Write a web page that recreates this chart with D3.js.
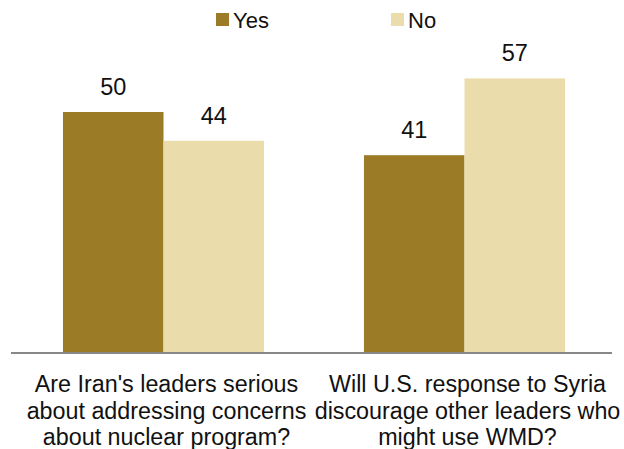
<!DOCTYPE html>
<html>
<head>
<meta charset="utf-8">
<script src="https://cdn.jsdelivr.net/npm/d3@7"></script>
<style>
  html, body { margin: 0; padding: 0; background: #fff; }
  svg { display: block; }
</style>
</head>
<body>
<svg id="chart" width="624" height="449"></svg>
<script>
// Survey questions and the share answering each way (%)
const questions = [
  ["Are Iran's leaders serious", "about addressing concerns", "about nuclear program?"],
  ["Will U.S. response to Syria", "discourage other leaders who", "might use WMD?"]
];
const seriesNames = ["Yes", "No"];
const yesValues = [50, 41];
const noValues = [44, 57];
const colors = ["#9C7B26", "#EBDCAB"];

const svg = d3.select("#chart");
const baseY = 352;

const x0 = d3.scaleBand()
  .domain(d3.range(questions.length))
  .range([13, 615])
  .paddingInner(0.332)
  .paddingOuter(0.166);

const x1 = d3.scaleBand()
  .domain(seriesNames)
  .range([0, x0.bandwidth()]);

const y = d3.scaleLinear()
  .domain([0, 50])
  .range([baseY, 112]);

const color = d3.scaleOrdinal().domain(seriesNames).range(colors);

const rows = questions.map((q, i) => ({
  i,
  values: [
    { key: "Yes", value: yesValues[i] },
    { key: "No", value: noValues[i] }
  ]
}));

const groups = svg.selectAll("g.group")
  .data(rows)
  .join("g")
  .attr("class", "group")
  .attr("transform", d => `translate(${x0(d.i)},0)`);

groups.selectAll("rect")
  .data(d => d.values)
  .join("rect")
  .attr("x", d => x1(d.key))
  .attr("y", d => y(d.value))
  .attr("width", x1.bandwidth())
  .attr("height", d => baseY - y(d.value))
  .attr("fill", d => color(d.key));

groups.selectAll("text.value")
  .data(d => d.values)
  .join("text")
  .attr("class", "value")
  .attr("x", d => x1(d.key) + x1.bandwidth() / 2)
  .attr("y", d => y(d.value) - 17)
  .attr("text-anchor", "middle")
  .attr("font-family", "Liberation Sans, Arial, sans-serif")
  .attr("font-size", 23.5)
  .attr("fill", "#111")
  .text(d => d.value);

// Baseline
svg.append("line")
  .attr("x1", 11).attr("x2", 612)
  .attr("y1", baseY + 1).attr("y2", baseY + 1)
  .attr("stroke", "#888")
  .attr("stroke-width", 2);

// Category labels
const labels = svg.selectAll("text.cat")
  .data(questions)
  .join("text")
  .attr("class", "cat")
  .attr("text-anchor", "middle")
  .attr("font-family", "Liberation Sans, Arial, sans-serif")
  .attr("font-size", 23.3)
  .attr("fill", "#111");

labels.selectAll("tspan")
  .data((d, i) => d.map(line => ({ line, i })))
  .join("tspan")
  .attr("x", d => x0(d.i) + x0.bandwidth() / 2 + 3)
  .attr("y", (d, j) => 392 + j * 26.5)
  .text(d => d.line);

// Legend
const legendX = [216, 391];
const legend = svg.selectAll("g.legend")
  .data(seriesNames)
  .join("g")
  .attr("class", "legend")
  .attr("transform", (d, i) => `translate(${legendX[i]},13)`);

legend.append("rect")
  .attr("width", 13).attr("height", 13)
  .attr("fill", d => color(d));

legend.append("text")
  .attr("x", 17).attr("y", 15)
  .attr("font-family", "Liberation Sans, Arial, sans-serif")
  .attr("font-size", 22)
  .attr("fill", "#111")
  .text(d => d);
</script>
</body>
</html>
